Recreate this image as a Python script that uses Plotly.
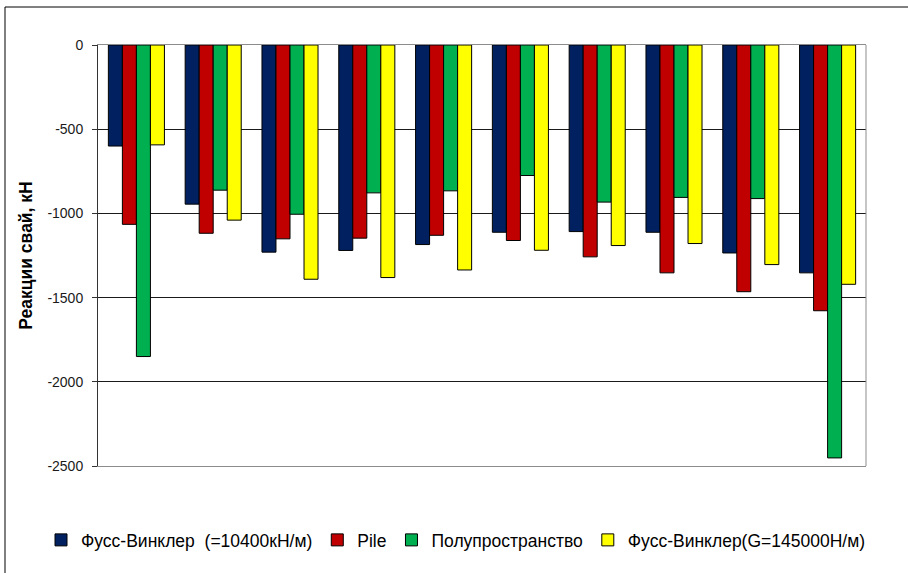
import plotly.graph_objects as go

# Pile numbers (categories along the foundation)
piles = ["1", "2", "3", "4", "5", "6", "7", "8", "9", "10"]

# Pile reactions, kN, for each soil model
winkler_10400 = [-600, -945, -1230, -1220, -1185, -1112, -1108, -1112, -1235, -1353]
pile_model = [-1065, -1118, -1151, -1147, -1130, -1161, -1258, -1353, -1465, -1578]
half_space = [-1850, -862, -1005, -878, -866, -775, -933, -905, -912, -2452]
winkler_145000 = [-593, -1040, -1391, -1381, -1336, -1219, -1191, -1179, -1304, -1421]

series_names = [
    "Фусс-Винклер  (=10400кН/м)",
    "Pile",
    "Полупространство",
    "Фусс-Винклер(G=145000Н/м)",
]
series_values = [winkler_10400, pile_model, half_space, winkler_145000]
series_colors = ["#002060", "#C00000", "#00B050", "#FFFF00"]

y_ticks = [0, -500, -1000, -1500, -2000, -2500]

fig = go.Figure()
for name, vals, col in zip(series_names, series_values, series_colors):
    fig.add_trace(go.Bar(
        x=piles, y=vals, name=name,
        marker=dict(color=col, line=dict(color="#000000", width=1)),
    ))

W, H = 908, 573
L, R, T, B = 98, 42, 45, 107
pw, ph = W - L - R, H - T - B

FONT = "Liberation Sans, Arial, sans-serif"

fig.update_layout(
    width=W, height=H,
    margin=dict(l=L, r=R, t=T, b=B, autoexpand=False),
    paper_bgcolor="white", plot_bgcolor="white",
    barmode="group", bargap=0.27, bargroupgap=0,
    font=dict(family=FONT, size=14, color="#000000"),
    showlegend=True,
    legend=dict(
        orientation="h", x=(41 - L) / pw, xanchor="left",
        y=(T + ph - 540) / ph, yanchor="middle",
        font=dict(family=FONT, size=17.5, color="#000000"),
        itemwidth=30, tracegroupgap=0,
        bgcolor="rgba(0,0,0,0)",
    ),
    xaxis=dict(
        showticklabels=False, ticks="", showgrid=False, zeroline=False,
        showline=True, linecolor="#8c8c8c", linewidth=1, mirror=True,
    ),
    yaxis=dict(
        range=[-2500, 0], tickvals=y_ticks, ticktext=[str(v) for v in y_ticks],
        showgrid=True, gridcolor="#1a1a1a", gridwidth=1, zeroline=False,
        showline=True, linecolor="#333333", linewidth=1,
        ticks="outside", ticklen=5, tickcolor="#333333",
        ticklabelstandoff=6,
        tickfont=dict(family=FONT, size=14, color="#1a1a1a"),
        title=dict(text="<b>Реакции свай, кН</b>",
                   font=dict(family=FONT, size=17.5, color="#000000"), standoff=10),
    ),
)

# right edge of the plot area in gray
fig.add_shape(type="line", xref="paper", yref="paper", x0=1, x1=1, y0=0, y1=1,
              line=dict(color="#8c8c8c", width=1))

# chart frame (left and top edges)
fx0 = (5 - L) / pw
fy1 = (T + ph - 7) / ph
fig.add_shape(type="line", xref="paper", yref="paper", x0=fx0, x1=fx0, y0=-1, y1=fy1,
              line=dict(color="#000000", width=1))
fig.add_shape(type="line", xref="paper", yref="paper", x0=fx0, x1=2, y0=fy1, y1=fy1,
              line=dict(color="#000000", width=1))

fig.write_html("out.html")
